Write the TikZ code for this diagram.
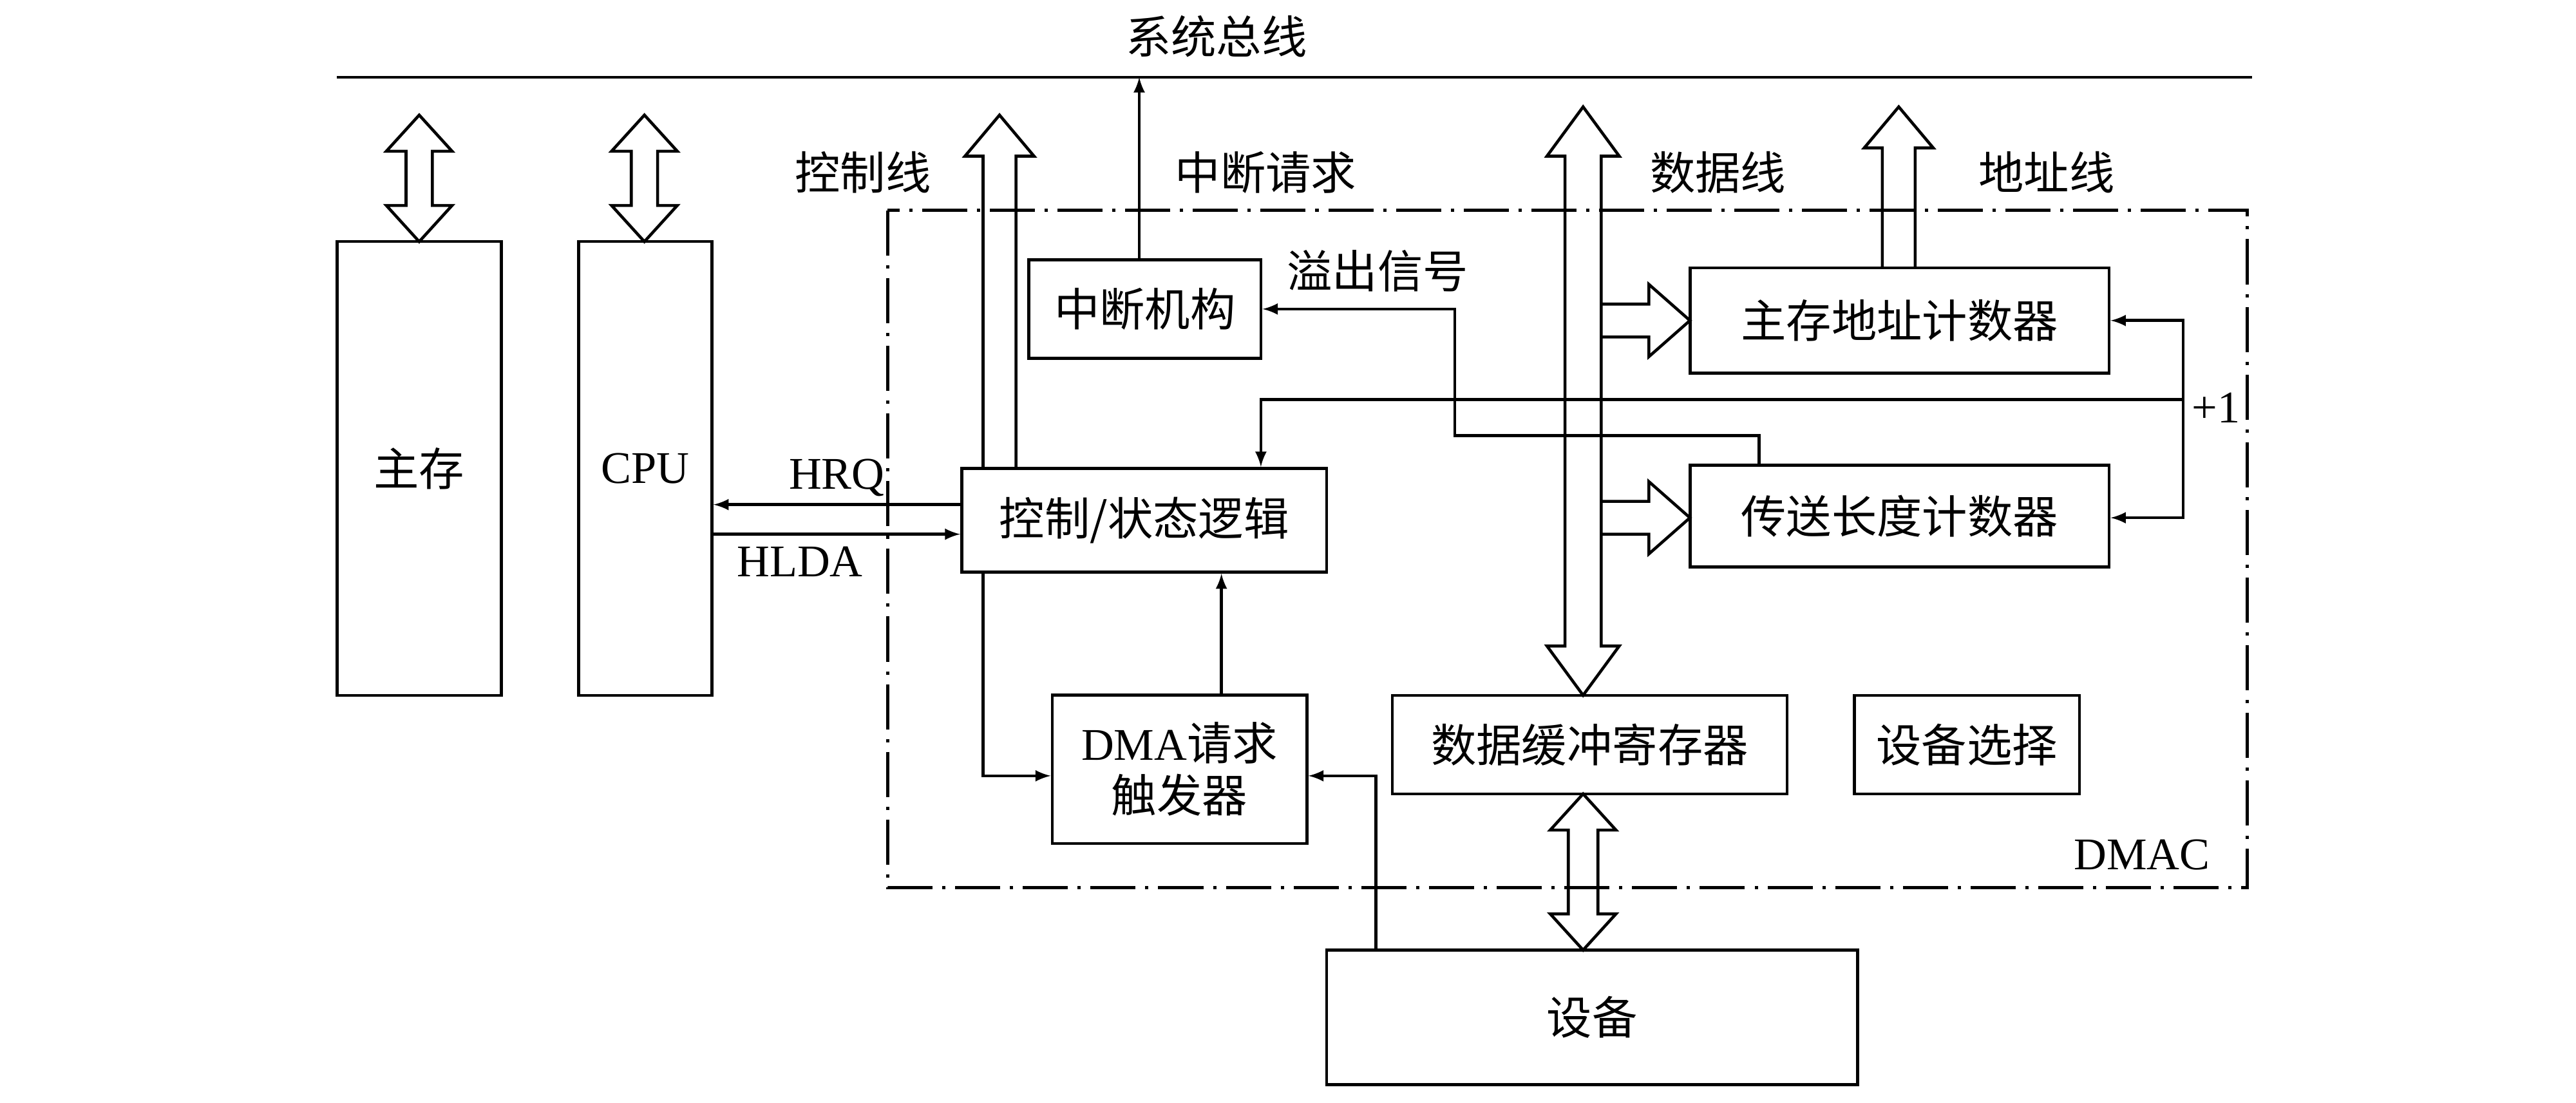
\documentclass[tikz,border=0pt]{standalone}
\usepackage{fontspec}
\setmainfont{Liberation Serif}
\newfontfamily\cjk{Noto Sans CJK SC}
\usetikzlibrary{positioning}

% hollow double-headed vertical arrow: x, top y, bottom y, shaft half width, head half width, head length
\newcommand{\vdbl}[6]{\draw[wire] (#1,#2) -- ({#1+#5},{#2+#6}) -- ({#1+#4},{#2+#6}) -- ({#1+#4},{#3-#6}) -- ({#1+#5},{#3-#6}) -- (#1,#3) -- ({#1-#5},{#3-#6}) -- ({#1-#4},{#3-#6}) -- ({#1-#4},{#2+#6}) -- ({#1-#5},{#2+#6}) -- cycle;}
% hollow up arrow, open at its foot
\newcommand{\vup}[3]{\draw[wire] ({#1-10},#3) -- ({#1-10},{#2+25}) -- ({#1-21},{#2+25}) -- (#1,#2) -- ({#1+21},{#2+25}) -- ({#1+10},{#2+25}) -- ({#1+10},#3);}
% hollow right arrow, open at its tail
\newcommand{\hright}[3]{\draw[wire] (#1,{#3-10}) -- ({#2-25},{#3-10}) -- ({#2-25},{#3-22}) -- (#2,#3) -- ({#2-25},{#3+22}) -- ({#2-25},{#3+10}) -- (#1,{#3+10});}

\begin{document}
\begin{tikzpicture}[x=0.0255cm, y=-0.0255cm,
    wire/.style={line width=1.3pt},
    box/.style={draw, line width=1.3pt, inner sep=0pt, align=center},
    lbl/.style={inner sep=1pt},
    sig/.style={wire, -latex},
    dmac/.style={line width=1.3pt, dash pattern=on 0.7cm off 0.15cm on 0.05cm off 0.15cm},
    every node/.style={font=\fontsize{20}{25}\selectfont}]
\useasboundingbox (0,0) rectangle (1567,671);

%bus
\draw[wire] (205,47) -- (1370,47);
\node[lbl] (bus) at (740,22) {\cjk 系统总线};

%dmac frame
\draw[dmac] (540,128) rectangle (1367,540);
\node[lbl] (dmacl) at (1303,520) {DMAC};

%boxes
\node[box, minimum width=2.55cm, minimum height=7.04cm] (mem) at (255,285) {\cjk 主存};
\node[box, minimum width=2.07cm, minimum height=7.04cm] (cpu) at (392.5,285) {CPU};
\node[box, minimum width=3.6cm, minimum height=1.53cm] (intr) at (696.5,188) {\cjk 中断机构};
\node[box, minimum width=5.66cm, minimum height=1.61cm] (ctrl) at (696,316.5) {\cjk 控制/状态逻辑};
\node[box, minimum width=3.95cm, minimum height=2.3cm] (req) at (717.5,468) {DMA{\cjk 请求}\\[-2pt]{\cjk 触发器}};
\node[box, minimum width=6.12cm, minimum height=1.53cm] (buf) at (967,453) {\cjk 数据缓冲寄存器};
\node[box, minimum width=8.24cm, minimum height=2.09cm] (dev) at (968.5,619) {\cjk 设备};
\node[box, minimum width=6.5cm, minimum height=1.63cm] (addr) at (1155.5,195) {\cjk 主存地址计数器};
\node[box, minimum width=6.5cm, minimum height=1.58cm] (len) at (1155.5,314) {\cjk 传送长度计数器};
\node[box, minimum width=3.49cm, minimum height=1.53cm] (sel) at (1196.5,453) {\cjk 设备选择};

%wide arrows
\vdbl{255}{70}{147}{8}{20}{22}
\vdbl{392}{70}{147}{8}{20}{22}
\vdbl{963}{65}{423}{11}{22}{30}
\vdbl{963}{483}{578}{9}{20}{22}
\vup{608}{70}{285}
\vup{1155}{65}{163}
\hright{974}{1028}{195}
\hright{974}{1028}{315}

%labels
\node[lbl] (cl) at (525,105) {\cjk 控制线};
\node[lbl] (irl) at (770,105) {\cjk 中断请求};
\node[lbl] (dl) at (1045,105) {\cjk 数据线};
\node[lbl] (al) at (1245,105) {\cjk 地址线};
\node[lbl] (ovl) at (838,165) {\cjk 溢出信号};
\node[lbl] (pl) at (1348,248) {+1};

%signals
\coordinate (busi) at (693,47);
\draw[sig] (intr.north -| busi) -- (busi);
\draw[sig] (ctrl.west |- 0,307) -- node[lbl, above=2pt] (hrq) {HRQ} (cpu.east |- 0,307);
\draw[sig] (cpu.east |- 0,325) -- node[lbl, below=4pt, pos=0.35] (hlda) {HLDA} (ctrl.west |- 0,325);
\draw[sig] (req.north -| 743,0) -- (ctrl.south -| 743,0);
\draw[sig] (ctrl.south -| 598,0) |- (req.west |- 0,472);
\draw[sig] (dev.north -| 837,0) |- (req.east |- 0,472);
\draw[wire, latex-latex] (addr.east) -- (1328,195) -- (1328,315) -- (len.east |- 0,315);
\draw[sig] (1328,243) -| (ctrl.north -| 767,0);
\draw[sig] (len.north -| 1070,0) |- (885,265) |- (intr.east);
\end{tikzpicture}
\end{document}
